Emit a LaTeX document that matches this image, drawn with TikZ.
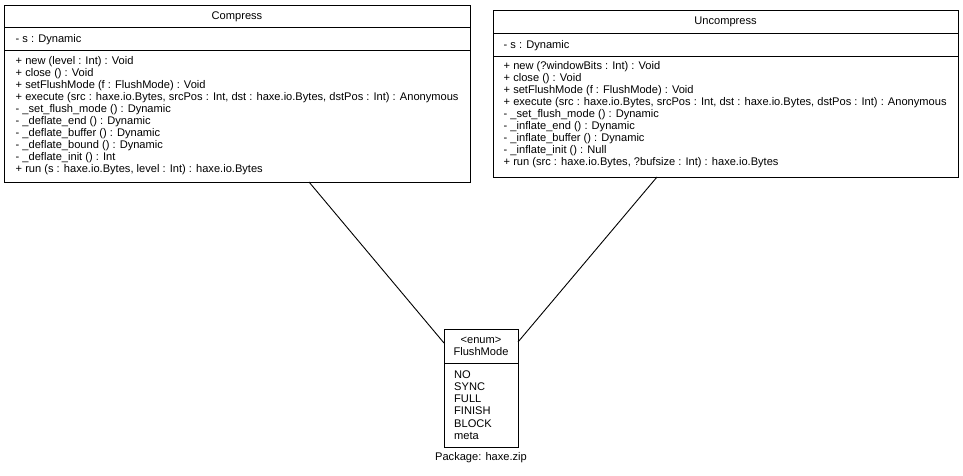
\documentclass[tikz,border=0pt]{standalone}
\usepackage{fontspec}
\setmainfont{Liberation Sans}
\begin{document}
\begin{tikzpicture}[x=1pt,y=-1pt,
  umlbox/.style={draw,line width=1pt,inner sep=0pt,anchor=north west},
  umltext/.style={inner sep=0pt,anchor=west,align=left,font=\fontsize{11.1}{12}\selectfont},
  umltitle/.style={inner sep=0pt,font=\fontsize{11.1}{12}\selectfont},
  link/.style={line width=0.9pt}]
\useasboundingbox (0,0) rectangle (963,476);

% Compress class
\node[umlbox,minimum width=466pt,minimum height=177pt] (compress) at (4,5) {};
\draw[line width=1pt] (4,28) -- (470,28) (4,51) -- (470,51);
\node[umltitle] (compressname) at (237,16.5) {Compress};
\node[umltext] (compressattr) at (15.5,40) {- s : Dynamic};
\node[umltext] (compressops) at (15.5,115.5) {+ new (level : Int) : Void\\
+ close () : Void\\
+ setFlushMode (f : FlushMode) : Void\\
+ execute (src : haxe.io.Bytes, srcPos : Int, dst : haxe.io.Bytes, dstPos : Int) : Anonymous\\
- \_set\_flush\_mode () : Dynamic\\
- \_deflate\_end () : Dynamic\\
- \_deflate\_buffer () : Dynamic\\
- \_deflate\_bound () : Dynamic\\
- \_deflate\_init () : Int\\
+ run (s : haxe.io.Bytes, level : Int) : haxe.io.Bytes};

% Uncompress class
\node[umlbox,minimum width=465pt,minimum height=167pt] (uncompress) at (493,10) {};
\draw[line width=1pt] (493,34) -- (958,34) (493,57) -- (958,57);
\node[umltitle] (uncompressname) at (725.5,22) {Uncompress};
\node[umltext] (uncompressattr) at (503.5,45.5) {- s : Dynamic};
\node[umltext] (uncompressops) at (503.5,114.5) {+ new (?windowBits : Int) : Void\\
+ close () : Void\\
+ setFlushMode (f : FlushMode) : Void\\
+ execute (src : haxe.io.Bytes, srcPos : Int, dst : haxe.io.Bytes, dstPos : Int) : Anonymous\\
- \_set\_flush\_mode () : Dynamic\\
- \_inflate\_end () : Dynamic\\
- \_inflate\_buffer () : Dynamic\\
- \_inflate\_init () : Null\\
+ run (src : haxe.io.Bytes, ?bufsize : Int) : haxe.io.Bytes};

% FlushMode enum
\node[umlbox,minimum width=74pt,minimum height=118pt] (flushmode) at (444,329) {};
\draw[line width=1pt] (444,363) -- (518,363);
\node[umltitle,align=center] (flushmodename) at (481,346.5) {<enum>\\FlushMode};
\node[umltext,font=\fontsize{11.1}{12.3}\selectfont] (flushmodevals) at (454,405) {NO\\SYNC\\FULL\\FINISH\\BLOCK\\meta};

\node[umltitle] (package) at (481,458) {Package: haxe.zip};

% associations
\coordinate (ca) at (309,182);
\coordinate (cb) at (444,343);
\coordinate (ua) at (657,177);
\coordinate (ub) at (518,342);
\draw[link] (ca) -- (cb);
\draw[link] (ua) -- (ub);
\end{tikzpicture}
\end{document}
